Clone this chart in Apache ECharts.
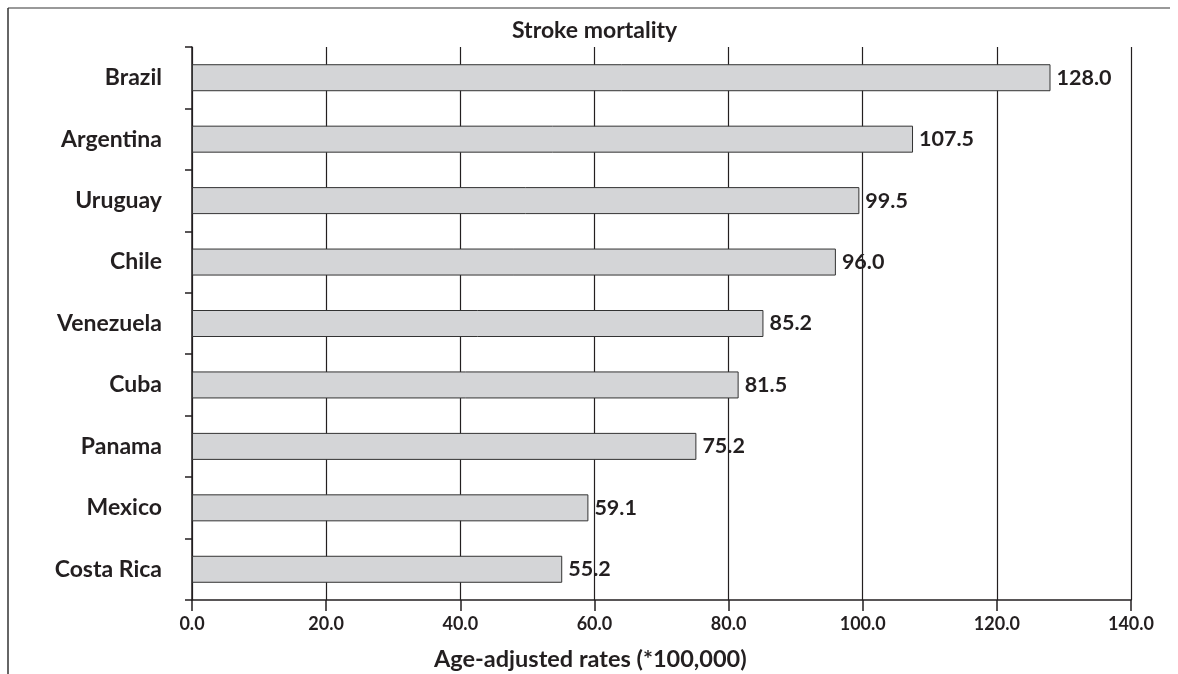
<!DOCTYPE html>
<html>
<head>
<meta charset="utf-8">
<script src="https://cdn.jsdelivr.net/npm/echarts@6/dist/echarts.min.js"></script>
<style>
  html, body { margin: 0; padding: 0; background: #fff; }
  #main { width: 1178px; height: 674px; }
</style>
</head>
<body>
<div id="main"></div>
<script>
// data
var countries = ['Brazil', 'Argentina', 'Uruguay', 'Chile', 'Venezuela', 'Cuba', 'Panama', 'Mexico', 'Costa Rica'];
var rates = [128.0, 107.5, 99.5, 96.0, 85.2, 81.5, 75.2, 59.1, 55.2];
var xTicks = { min: 0, max: 140, step: 20 };

var FONT = 'Lato';
var INK = '#231f20';

var myChart = echarts.init(document.getElementById('main'));

myChart.setOption({
    animation: false,
    textStyle: { fontFamily: FONT },
    title: [
        {
            text: 'Stroke mortality',
            left: 512, top: 19, padding: 0,
            textStyle: { fontFamily: FONT, fontWeight: 'bold', fontSize: 23, color: INK }
        },
        {
            text: 'Age-adjusted rates (*100,000)',
            left: 434, top: 647, padding: 0,
            textStyle: { fontFamily: FONT, fontWeight: 'bold', fontSize: 23.5, color: INK }
        }
    ],
    // frame lines around the figure (top and left only)
    graphic: [
        { type: 'line', shape: { x1: 8, y1: 8, x2: 1170, y2: 8 }, style: { stroke: '#777', lineWidth: 1.5 } },
        { type: 'line', shape: { x1: 8, y1: 8, x2: 8, y2: 674 }, style: { stroke: '#333', lineWidth: 1.5 } }
    ],
    grid: {
        left: 192,
        right: 47,
        top: 47,
        bottom: 74,
        containLabel: false
    },
    xAxis: {
        type: 'value',
        min: xTicks.min,
        max: xTicks.max,
        interval: xTicks.step,
        axisLine: { show: true, lineStyle: { color: INK, width: 1.5 } },
        axisTick: { show: true, length: 11, lineStyle: { color: INK, width: 1.5 } },
        splitLine: { show: true, lineStyle: { color: INK, width: 1.2 } },
        axisLabel: {
            margin: 15,
            fontFamily: FONT, fontWeight: 'bold', fontSize: 18, color: INK,
            formatter: function (v) { return v.toFixed(1) }
        }
    },
    yAxis: {
        type: 'category',
        data: countries,
        inverse: true,
        axisLine: { show: true, lineStyle: { color: INK, width: 1.5 } },
        axisTick: { show: true, length: 7, lineStyle: { color: INK, width: 1.5 } },
        axisLabel: {
            margin: 30,
            fontFamily: FONT, fontWeight: 'bold', fontSize: 23, color: INK
        }
    },
    series: [
        {
            type: 'bar',
            data: rates,
            barWidth: 27,
            itemStyle: { color: '#d4d5d7', borderColor: '#333', borderWidth: 1 },
            label: {
                show: true,
                position: 'right',
                distance: 6,
                fontFamily: FONT, fontWeight: 'bold', fontSize: 21.5, color: INK,
                formatter: function (p) { return p.value.toFixed(1) }
            }
        }
    ]
});
</script>
</body>
</html>
